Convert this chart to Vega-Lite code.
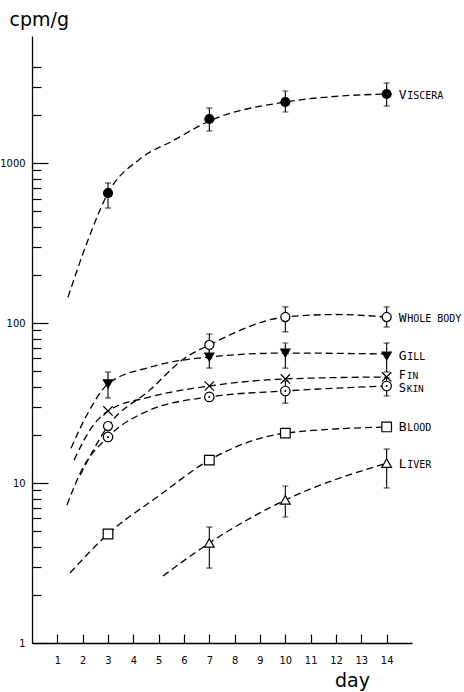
{
  "$schema": "https://vega.github.io/schema/vega-lite/v6.json",
  "width": 380,
  "height": 607,
  "autosize": "none",
  "padding": {"left": 32, "top": 36, "right": 52, "bottom": 49},
  "background": "white",
  "config": {
    "view": {"stroke": null},
    "axis": {
      "grid": false,
      "domainColor": "black",
      "domainWidth": 1.3,
      "tickColor": "black",
      "tickWidth": 1.2,
      "labelColor": "black",
      "labelFont": "Liberation Sans Narrow, DejaVu Sans Condensed, Liberation Sans, sans-serif",
      "labelFontSize": 11,
      "labelOverlap": false,
      "titleColor": "black",
      "titleFont": "DejaVu Sans",
      "titleFontSize": 19,
      "titleFontWeight": "normal"
    }
  },
  "datasets": {
    "curves": [
      {"series": "Viscera", "day": 1.42, "value": 145},
      {"series": "Viscera", "day": 2.21, "value": 330},
      {"series": "Viscera", "day": 3, "value": 649},
      {"series": "Viscera", "day": 4.26, "value": 1060},
      {"series": "Viscera", "day": 5.57, "value": 1380},
      {"series": "Viscera", "day": 7, "value": 1830},
      {"series": "Viscera", "day": 10, "value": 2406},
      {"series": "Viscera", "day": 12.16, "value": 2620},
      {"series": "Viscera", "day": 14, "value": 2699},
      {"series": "Whole body", "day": 1.9, "value": 11.2},
      {"series": "Whole body", "day": 3, "value": 22.7},
      {"series": "Whole body", "day": 4.66, "value": 38.2},
      {"series": "Whole body", "day": 6.04, "value": 60.5},
      {"series": "Whole body", "day": 7, "value": 72.9},
      {"series": "Whole body", "day": 10, "value": 109},
      {"series": "Whole body", "day": 12, "value": 113},
      {"series": "Whole body", "day": 14, "value": 109},
      {"series": "Gill", "day": 1.54, "value": 16.5},
      {"series": "Gill", "day": 2.21, "value": 27.4},
      {"series": "Gill", "day": 3, "value": 41.6},
      {"series": "Gill", "day": 4.66, "value": 53},
      {"series": "Gill", "day": 7, "value": 61.3},
      {"series": "Gill", "day": 10, "value": 64.9},
      {"series": "Gill", "day": 14, "value": 64},
      {"series": "Fin", "day": 1.66, "value": 13.9},
      {"series": "Fin", "day": 2.37, "value": 22.4},
      {"series": "Fin", "day": 3, "value": 28.2},
      {"series": "Fin", "day": 4.66, "value": 34.5},
      {"series": "Fin", "day": 7, "value": 40.4},
      {"series": "Fin", "day": 10, "value": 44.7},
      {"series": "Fin", "day": 14, "value": 46},
      {"series": "Skin", "day": 1.38, "value": 7.29},
      {"series": "Skin", "day": 1.97, "value": 12.1},
      {"series": "Skin", "day": 3, "value": 19.4},
      {"series": "Skin", "day": 4.66, "value": 28.6},
      {"series": "Skin", "day": 7, "value": 34.5},
      {"series": "Skin", "day": 10, "value": 37.6},
      {"series": "Skin", "day": 14, "value": 40.4},
      {"series": "Blood", "day": 1.5, "value": 2.74},
      {"series": "Blood", "day": 3, "value": 4.8},
      {"series": "Blood", "day": 5, "value": 8.3},
      {"series": "Blood", "day": 7, "value": 13.9},
      {"series": "Blood", "day": 10, "value": 20.5},
      {"series": "Blood", "day": 14, "value": 22.4},
      {"series": "Liver", "day": 5.17, "value": 2.62},
      {"series": "Liver", "day": 7, "value": 4.22},
      {"series": "Liver", "day": 10, "value": 7.83},
      {"series": "Liver", "day": 14, "value": 13.3}
    ],
    "points": [
      {"series": "Viscera", "day": 3, "value": 649, "lo": 523, "hi": 750},
      {"series": "Viscera", "day": 7, "value": 1884, "lo": 1585, "hi": 2207},
      {"series": "Viscera", "day": 10, "value": 2406, "lo": 2083, "hi": 2818},
      {"series": "Viscera", "day": 14, "value": 2699, "lo": 2271, "hi": 3162},
      {"series": "Whole body", "day": 3, "value": 22.7},
      {"series": "Whole body", "day": 7, "value": 72.9, "lo": 60.4, "hi": 85.3},
      {"series": "Whole body", "day": 10, "value": 109, "lo": 87.9, "hi": 126},
      {"series": "Whole body", "day": 14, "value": 109, "lo": 94.4, "hi": 126},
      {"series": "Gill", "day": 3, "value": 41.6, "lo": 34, "hi": 49.4},
      {"series": "Gill", "day": 7, "value": 61.3, "lo": 52.3, "hi": 70.8},
      {"series": "Gill", "day": 10, "value": 64.9, "lo": 52.3, "hi": 75},
      {"series": "Gill", "day": 14, "value": 62.2, "lo": 49.4, "hi": 75},
      {"series": "Fin", "day": 3, "value": 28.2},
      {"series": "Fin", "day": 7, "value": 40.4},
      {"series": "Fin", "day": 10, "value": 44.7},
      {"series": "Fin", "day": 14, "value": 46},
      {"series": "Skin", "day": 3, "value": 19.4},
      {"series": "Skin", "day": 7, "value": 34.5},
      {"series": "Skin", "day": 10, "value": 37.6, "lo": 31.6, "hi": 43.4},
      {"series": "Skin", "day": 14, "value": 40.4, "lo": 35, "hi": 45.3},
      {"series": "Blood", "day": 3, "value": 4.8},
      {"series": "Blood", "day": 7, "value": 13.9},
      {"series": "Blood", "day": 10, "value": 20.5},
      {"series": "Blood", "day": 14, "value": 22.4},
      {"series": "Liver", "day": 7, "value": 4.22, "lo": 2.94, "hi": 5.31},
      {"series": "Liver", "day": 10, "value": 7.83, "lo": 6.13, "hi": 9.58},
      {"series": "Liver", "day": 14, "value": 13.3, "lo": 9.31, "hi": 16.3}
    ],
    "labels": [
      {"series": "Viscera", "day": 14, "value": 2699, "first": "V", "rest": "ISCERA"},
      {"series": "Whole body", "day": 14, "value": 109, "first": "W", "rest": "HOLE BODY"},
      {"series": "Gill", "day": 14, "value": 62.2, "first": "G", "rest": "ILL"},
      {"series": "Fin", "day": 14, "value": 46, "first": "F", "rest": "IN"},
      {"series": "Skin", "day": 14, "value": 40.4, "first": "S", "rest": "KIN"},
      {"series": "Blood", "day": 14, "value": 22.4, "first": "B", "rest": "LOOD"},
      {"series": "Liver", "day": 14, "value": 13.3, "first": "L", "rest": "IVER"}
    ]
  },
  "layer": [
    {
      "data": {"name": "curves"},
      "mark": {"type": "line", "interpolate": "monotone", "stroke": "black", "strokeWidth": 1.3, "strokeDash": [7, 4]},
      "encoding": {
        "x": {
          "field": "day", "type": "quantitative",
          "scale": {"domain": [0, 15], "nice": false, "zero": false},
          "axis": {
            "values": [1, 2, 3, 4, 5, 6, 7, 8, 9, 10, 11, 12, 13, 14],
            "tickCount": 100,
            "format": "d",
            "tickSize": -9,
            "labelPadding": 20,
            "labelFlush": false,
            "labelOverlap": false,
            "title": "day",
            "titleX": 320,
            "titleY": 43,
            "titleAlign": "center",
            "titleBaseline": "alphabetic"
          }
        },
        "y": {
          "field": "value", "type": "quantitative",
          "scale": {"type": "log", "domain": [1, 6220], "nice": false},
          "axis": {
            "values": [1, 2, 3, 4, 5, 6, 7, 8, 9, 10, 20, 30, 40, 50, 60, 70, 80, 90, 100, 200, 300, 400, 500, 600, 700, 800, 900, 1000, 2000, 3000, 4000],
            "tickCount": 100,
            "format": "d",
            "labelExpr": "indexof([1, 10, 100, 1000], datum.value) >= 0 ? datum.label : ''",
            "tickSize": {"condition": {"test": "indexof([1, 10, 100, 1000], datum.value) >= 0", "value": -16}, "value": -9},
            "labelPadding": 23,
            "labelFlush": false,
            "labelOverlap": false,
            "title": "cpm/g",
            "titleAngle": 0,
            "titleAlign": "left",
            "titleBaseline": "alphabetic",
            "titleX": -23,
            "titleY": -11
          }
        },
        "detail": {"field": "series"}
      }
    },
    {
      "data": {"name": "points"},
      "transform": [{"filter": "isValid(datum.hi)"}],
      "mark": {"type": "rule", "stroke": "black", "strokeWidth": 1.1},
      "encoding": {
        "x": {"field": "day", "type": "quantitative"},
        "y": {"field": "lo", "type": "quantitative"},
        "y2": {"field": "hi"}
      }
    },
    {
      "data": {"name": "points"},
      "transform": [{"filter": "isValid(datum.hi)"}],
      "mark": {"type": "tick", "orient": "horizontal", "size": 6, "thickness": 1.2, "color": "black"},
      "encoding": {
        "x": {"field": "day", "type": "quantitative"},
        "y": {"field": "hi", "type": "quantitative"}
      }
    },
    {
      "data": {"name": "points"},
      "transform": [{"filter": "isValid(datum.lo)"}],
      "mark": {"type": "tick", "orient": "horizontal", "size": 6, "thickness": 1.2, "color": "black"},
      "encoding": {
        "x": {"field": "day", "type": "quantitative"},
        "y": {"field": "lo", "type": "quantitative"}
      }
    },
    {
      "data": {"name": "points"},
      "mark": {"type": "point", "stroke": "black", "strokeWidth": 1.2, "opacity": 1, "fillOpacity": 1},
      "encoding": {
        "x": {"field": "day", "type": "quantitative"},
        "y": {"field": "value", "type": "quantitative"},
        "shape": {
          "field": "series", "type": "nominal", "legend": null,
          "scale": {
            "domain": ["Viscera", "Whole body", "Gill", "Fin", "Skin", "Blood", "Liver"],
            "range": ["circle", "circle", "triangle-down", "M-1,-1L1,1M-1,1L1,-1", "circle", "square", "triangle-up"]
          }
        },
        "fill": {
          "field": "series", "type": "nominal", "legend": null,
          "scale": {
            "domain": ["Viscera", "Whole body", "Gill", "Fin", "Skin", "Blood", "Liver"],
            "range": ["black", "white", "black", "white", "white", "white", "white"]
          }
        },
        "size": {
          "field": "series", "type": "nominal", "legend": null,
          "scale": {
            "domain": ["Viscera", "Whole body", "Gill", "Fin", "Skin", "Blood", "Liver"],
            "range": [80, 95, 110, 55, 80, 55, 130]
          }
        }
      }
    },
    {
      "data": {"name": "points"},
      "transform": [{"filter": "datum.series === 'Skin'"}],
      "mark": {"type": "point", "shape": "circle", "filled": true, "color": "black", "size": 4, "opacity": 1},
      "encoding": {
        "x": {"field": "day", "type": "quantitative"},
        "y": {"field": "value", "type": "quantitative"}
      }
    },
    {
      "data": {"name": "labels"},
      "transform": [{"filter": "datum.series !== 'Fin' && datum.series !== 'Skin'"}],
      "mark": {"type": "text", "align": "left", "baseline": "alphabetic", "dx": 12, "dy": 4.5, "font": "DejaVu Sans Mono", "fontSize": 13, "color": "black"},
      "encoding": {
        "x": {"field": "day", "type": "quantitative"},
        "y": {"field": "value", "type": "quantitative"},
        "text": {"field": "first"}
      }
    },
    {
      "data": {"name": "labels"},
      "transform": [{"filter": "datum.series !== 'Fin' && datum.series !== 'Skin'"}],
      "mark": {"type": "text", "align": "left", "baseline": "alphabetic", "dx": 20.5, "dy": 4.5, "font": "DejaVu Sans Mono", "fontSize": 10, "color": "black"},
      "encoding": {
        "x": {"field": "day", "type": "quantitative"},
        "y": {"field": "value", "type": "quantitative"},
        "text": {"field": "rest"}
      }
    },
    {
      "data": {"name": "labels"},
      "transform": [{"filter": "datum.series === 'Fin'"}],
      "mark": {"type": "text", "align": "left", "baseline": "alphabetic", "dx": 12, "dy": 2, "font": "DejaVu Sans Mono", "fontSize": 12, "color": "black"},
      "encoding": {
        "x": {"field": "day", "type": "quantitative"},
        "y": {"field": "value", "type": "quantitative"},
        "text": {"field": "first"}
      }
    },
    {
      "data": {"name": "labels"},
      "transform": [{"filter": "datum.series === 'Fin'"}],
      "mark": {"type": "text", "align": "left", "baseline": "alphabetic", "dx": 20, "dy": 2, "font": "DejaVu Sans Mono", "fontSize": 9.5, "color": "black"},
      "encoding": {
        "x": {"field": "day", "type": "quantitative"},
        "y": {"field": "value", "type": "quantitative"},
        "text": {"field": "rest"}
      }
    },
    {
      "data": {"name": "labels"},
      "transform": [{"filter": "datum.series === 'Skin'"}],
      "mark": {"type": "text", "align": "left", "baseline": "alphabetic", "dx": 12, "dy": 6.5, "font": "DejaVu Sans Mono", "fontSize": 12, "color": "black"},
      "encoding": {
        "x": {"field": "day", "type": "quantitative"},
        "y": {"field": "value", "type": "quantitative"},
        "text": {"field": "first"}
      }
    },
    {
      "data": {"name": "labels"},
      "transform": [{"filter": "datum.series === 'Skin'"}],
      "mark": {"type": "text", "align": "left", "baseline": "alphabetic", "dx": 20, "dy": 6.5, "font": "DejaVu Sans Mono", "fontSize": 9.5, "color": "black"},
      "encoding": {
        "x": {"field": "day", "type": "quantitative"},
        "y": {"field": "value", "type": "quantitative"},
        "text": {"field": "rest"}
      }
    }
  ]
}
